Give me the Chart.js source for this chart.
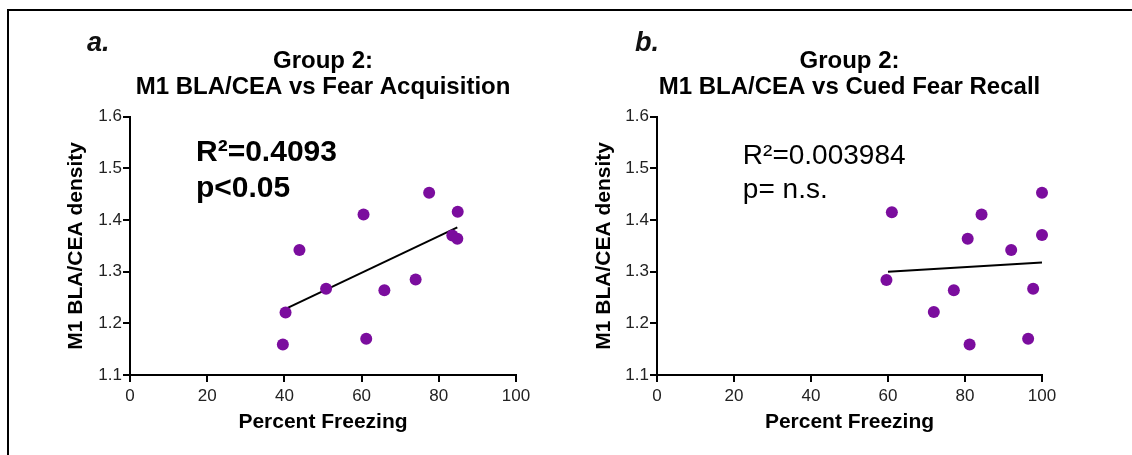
<!DOCTYPE html>
<html>
<head>
<meta charset="utf-8">
<script src="https://cdn.jsdelivr.net/npm/chart.js@4.4.0/dist/chart.umd.min.js"></script>
<style>
  html, body { margin: 0; padding: 0; background: #fff; }
  #wrap { position: relative; width: 1132px; height: 455px; overflow: hidden; font-family: "Liberation Sans", Arial, sans-serif; }
  #frame { position: absolute; left: 7px; top: 9px; width: 1200px; height: 500px; border-left: 2px solid #000; border-top: 2px solid #000; }
  canvas { position: absolute; top: 0; }
  .tag { position: absolute; top: 27px; font: italic bold 27px "Liberation Sans", Arial, sans-serif; color: #111; }
</style>
</head>
<body>
<div id="wrap">
  <div id="frame"></div>
  <canvas id="chartA" width="566" height="455" style="left:0"></canvas>
  <canvas id="chartB" width="566" height="455" style="left:566px"></canvas>
  <div class="tag" style="left:87px">a.</div>
  <div class="tag" style="left:635px">b.</div>
</div>
<script>
// panel a: fear acquisition
const acqFreezing = [39.6, 40.3, 43.9, 50.8, 60.5, 61.2, 65.9, 74.0, 77.5, 84.9, 83.5, 84.8];
const acqDensity  = [1.159, 1.221, 1.342, 1.267, 1.411, 1.170, 1.264, 1.285, 1.453, 1.416, 1.370, 1.364];
const acqFitX = [40.3, 84.8];
const acqFitY = [1.228, 1.386];

// panel b: cued fear recall
const recFreezing = [59.6, 61.0, 71.9, 77.1, 80.7, 81.2, 84.3, 92.0, 96.4, 97.7, 100, 100];
const recDensity  = [1.284, 1.415, 1.222, 1.264, 1.364, 1.159, 1.411, 1.342, 1.170, 1.267, 1.371, 1.453];
const recFitX = [60, 100];
const recFitY = [1.300, 1.318];

const xTicks = [0, 20, 40, 60, 80, 100];
const yTicks = [1.1, 1.2, 1.3, 1.4, 1.5, 1.6];

const FONT = '"Liberation Sans", Arial, sans-serif';
const PURPLE = '#7b0d9e';

// draws the R² / p text at data coordinates
const statText = {
    id: 'statText',
    afterDatasetsDraw(chart, args, opts) {
        const ctx = chart.ctx;
        const xs = chart.scales.x, ys = chart.scales.y;
        ctx.save();
        ctx.fillStyle = '#000';
        ctx.textAlign = 'left';
        ctx.textBaseline = 'alphabetic';
        (opts.lines || []).forEach(l => {
            ctx.font = l.font;
            ctx.fillText(l.text, xs.getPixelForValue(l.x), ys.getPixelForValue(l.y));
        });
        ctx.restore();
    }
};

function pairs(xs, ys) {
    return xs.map((x, i) => ({ x: x, y: ys[i] }));
}

function makeChart(id, title, xs, ys, fitX, fitY, lines, pad, yWidth) {
    return new Chart(document.getElementById(id), {
        type: 'scatter',
        data: {
            datasets: [
                {
                    data: pairs(xs, ys),
                    backgroundColor: PURPLE,
                    borderWidth: 0,
                    pointRadius: 6,
                    clip: false
                },
                {
                    type: 'line',
                    data: pairs(fitX, fitY),
                    borderColor: '#000',
                    borderWidth: 2,
                    pointRadius: 0,
                    fill: false,
                    clip: false
                }
            ]
        },
        options: {
            responsive: false,
            animation: false,
            layout: { padding: pad },
            plugins: {
                legend: { display: false },
                tooltip: { enabled: false },
                title: {
                    display: true,
                    fullSize: false,
                    text: title,
                    color: '#000',
                    font: { family: FONT, size: 24, weight: 'bold', lineHeight: 1.1 },
                    padding: { top: 48, bottom: 16 }
                },
                statText: { lines: lines }
            },
            scales: {
                x: {
                    type: 'linear',
                    min: 0,
                    max: 100,
                    afterBuildTicks: s => { s.ticks = xTicks.map(v => ({ value: v })); },
                    afterFit: s => { s.height = 60; },
                    grid: { drawOnChartArea: false, tickLength: 7, color: '#000', lineWidth: 2 },
                    border: { display: true, color: '#000', width: 2 },
                    ticks: { color: '#222', padding: 4, font: { family: FONT, size: 17 } },
                    title: {
                        display: true,
                        text: 'Percent Freezing',
                        color: '#000',
                        padding: 0,
                        font: { family: FONT, size: 21, weight: 'bold', lineHeight: 1.2 }
                    }
                },
                y: {
                    type: 'linear',
                    min: 1.1,
                    max: 1.6,
                    afterBuildTicks: s => { s.ticks = yTicks.map(v => ({ value: v })); },
                    afterFit: s => { s.width = yWidth; },
                    grid: { drawOnChartArea: false, tickLength: 7, color: '#000', lineWidth: 2 },
                    border: { display: true, color: '#000', width: 2 },
                    ticks: {
                        color: '#222',
                        padding: 1,
                        font: { family: FONT, size: 17 },
                        callback: v => v.toFixed(1)
                    },
                    title: {
                        display: true,
                        text: 'M1 BLA/CEA density',
                        color: '#000',
                        padding: 0,
                        font: { family: FONT, size: 21, weight: 'bold', lineHeight: 1.2 }
                    }
                }
            }
        },
        plugins: [statText]
    });
}

makeChart('chartA', ['Group 2:', 'M1 BLA/CEA vs Fear Acquisition'],
    acqFreezing, acqDensity, acqFitX, acqFitY,
    [
        { text: 'R\u00b2=0.4093', x: 17.1, y: 1.515, font: 'bold 30px ' + FONT },
        { text: 'p<0.05', x: 17.1, y: 1.445, font: 'bold 30px ' + FONT }
    ],
    { left: 64, right: 50, top: 0, bottom: 20 }, 66);

makeChart('chartB', ['Group 2:', 'M1 BLA/CEA vs Cued Fear Recall'],
    recFreezing, recDensity, recFitX, recFitY,
    [
        { text: 'R\u00b2=0.003984', x: 22.3, y: 1.509, font: '28px ' + FONT },
        { text: 'p= n.s.', x: 22.3, y: 1.443, font: '28px ' + FONT }
    ],
    { left: 26, right: 90, top: 0, bottom: 20 }, 65);
</script>
</body>
</html>
